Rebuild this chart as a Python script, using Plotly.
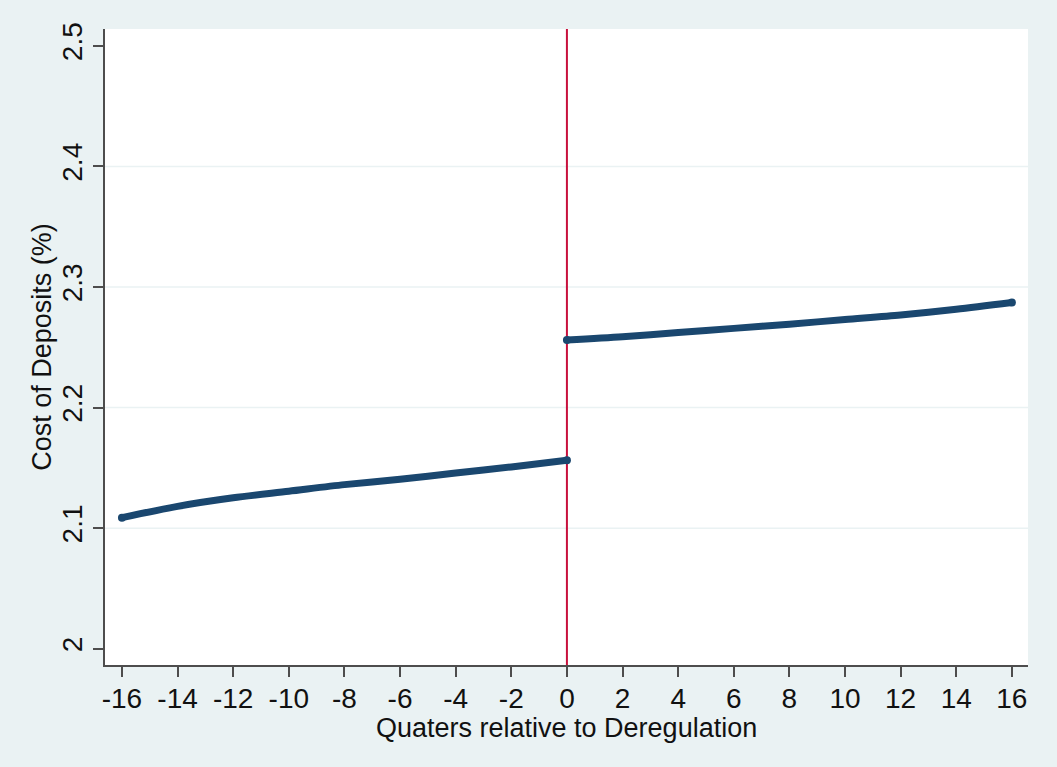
import plotly.graph_objects as go

# Quarters relative to deregulation and fitted cost of deposits (%)
quarters_pre = [-16, -14, -12, -10, -8, -6, -4, -2, 0]
cost_pre = [2.1087, 2.1181, 2.1252, 2.1306, 2.1361, 2.1405, 2.1458, 2.1508, 2.1563]

quarters_post = [0, 2, 4, 6, 8, 10, 12, 14, 16]
cost_post = [2.2560, 2.2587, 2.2622, 2.2657, 2.2692, 2.2730, 2.2767, 2.2815, 2.2871]

event_quarter = 0
x_ticks = list(range(-16, 17, 2))
y_ticks = [2.0, 2.1, 2.2, 2.3, 2.4, 2.5]
y_tick_labels = ["2", "2.1", "2.2", "2.3", "2.4", "2.5"]
grid_values = [2.1, 2.2, 2.3, 2.4]

x_title = "Quaters relative to Deregulation"
y_title = "Cost of Deposits (%)"

NAVY = "#1A476F"
BG = "#EAF2F3"
AXIS = "#4D4D4D"

fig = go.Figure()

for xs, ys in [(quarters_pre, cost_pre), (quarters_post, cost_post)]:
    fig.add_trace(go.Scatter(
        x=xs, y=ys, mode="lines",
        line=dict(color=NAVY, width=7, shape="spline", smoothing=0.8),
        showlegend=False, hoverinfo="skip",
    ))
    # rounded ends of each segment
    fig.add_trace(go.Scatter(
        x=[xs[0], xs[-1]], y=[ys[0], ys[-1]], mode="markers",
        marker=dict(color=NAVY, size=8),
        showlegend=False, hoverinfo="skip",
    ))

# horizontal grid lines (interior ticks only)
for g in grid_values:
    fig.add_shape(type="line", xref="paper", yref="y", x0=0, x1=1, y0=g, y1=g,
                  line=dict(color=BG, width=1.5), layer="below")

# event line
fig.add_shape(type="line", xref="x", yref="paper", x0=event_quarter, x1=event_quarter,
              y0=0, y1=1, line=dict(color="#C8103C", width=2), layer="below")

# axis titles placed close to the tick labels
fig.add_annotation(text=x_title, xref="paper", yref="paper", x=0.5, y=-0.0985,
                   xanchor="center", yanchor="middle", showarrow=False,
                   font=dict(size=27))
fig.add_annotation(text=y_title, xref="paper", yref="paper", x=-0.0685, y=0.5,
                   xanchor="center", yanchor="middle", textangle=-90, showarrow=False,
                   font=dict(size=27))

fig.update_layout(
    width=1057, height=767,
    paper_bgcolor=BG, plot_bgcolor="white",
    margin=dict(l=105, r=29, t=29, b=102),
    font=dict(family="Liberation Sans, Arial, sans-serif", color="#111111"),
    showlegend=False,
)

fig.update_xaxes(
    range=[-16.61, 16.58],
    tickmode="array", tickvals=x_ticks, ticktext=[str(v) for v in x_ticks],
    ticks="outside", ticklen=10, tickwidth=1.5, tickcolor=AXIS,
    tickfont=dict(size=28), ticklabelstandoff=-3,
    showline=True, linecolor=AXIS, linewidth=2, showgrid=False, zeroline=False,
)

fig.update_yaxes(
    range=[1.9865, 2.514],
    tickmode="array", tickvals=y_ticks, ticktext=y_tick_labels,
    tickangle=-90,
    ticks="outside", ticklen=10, tickwidth=1.5, tickcolor=AXIS,
    tickfont=dict(size=28),
    showline=True, linecolor=AXIS, linewidth=2, showgrid=False, zeroline=False,
)

fig.write_html("out.html")
